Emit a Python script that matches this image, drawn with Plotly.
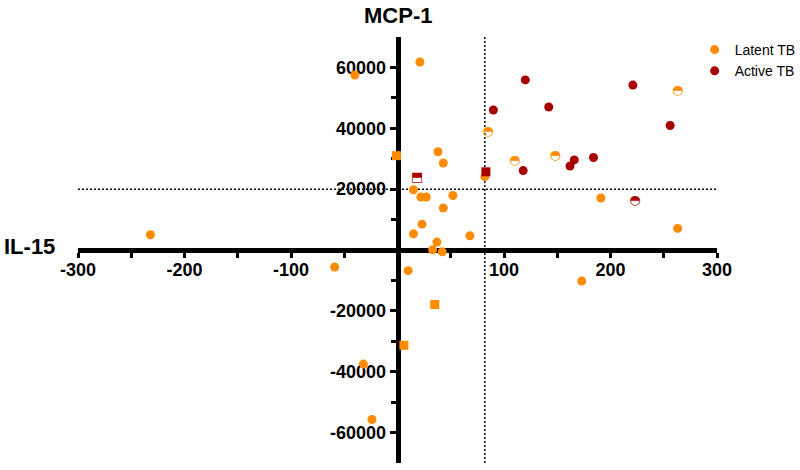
import plotly.graph_objects as go

# ---- data ----
latent_x = [-40, 21, -232, -59, 38, 43, 82, 15, 22, 27, 52, 43, 23, 15, 68, 37, 33, 42, 10, 191, 263, 173, -32, -24]
latent_y = [57500, 61800, 5000, -5600, 32300, 28600, 24100, 19800, 17400, 17400, 17900, 13800, 8500, 5300,
            4700, 2600, 100, -600, -6800, 17100, 7100, -10200, -37500, -55700]
latent_sq_x = [-1, 35, 6]
latent_sq_y = [31000, -17900, -31300]
latent_half_x = [85, 148, 263, 110]
latent_half_y = [38700, 30900, 52200, 29300]

active_x = [90, 120, 118, 142, 221, 256, 162, 166, 184]
active_y = [46000, 55900, 26100, 47000, 54200, 40900, 27600, 29600, 30400]
active_sq_x = [83]
active_sq_y = [25700]
active_half_x = [223]
active_half_y = [16200]
active_halfsq_x = [18.5]
active_halfsq_y = [23900]

cutoff_x = 82
cutoff_y = 20000

x_ticks = [-300, -200, -100, 100, 200, 300]
x_minor = [-250, -150, -50, 50, 150, 250]
y_ticks = [-60000, -40000, -20000, 20000, 40000, 60000]
y_minor = [-50000, -30000, -10000, 10000, 30000, 50000]
x_range = [-300, 300]
y_range = [-70000, 70000]

ORANGE = "#FF8C00"
DARKRED = "#A80000"

fig = go.Figure()

# reference (cut-off) lines
fig.add_trace(go.Scatter(x=x_range, y=[cutoff_y, cutoff_y], mode="lines",
                         line=dict(color="black", width=1.5, dash="2px,2px"),
                         showlegend=False, hoverinfo="skip"))
fig.add_trace(go.Scatter(x=[cutoff_x, cutoff_x], y=y_range, mode="lines",
                         line=dict(color="black", width=1.5, dash="2px,2px"),
                         showlegend=False, hoverinfo="skip"))

# Latent TB
fig.add_trace(go.Scatter(x=latent_x, y=latent_y, mode="markers", name="Latent TB",
                         marker=dict(symbol="circle", size=9, color=ORANGE)))
fig.add_trace(go.Scatter(x=latent_sq_x, y=latent_sq_y, mode="markers", showlegend=False,
                         marker=dict(symbol="square", size=9, color=ORANGE)))
fig.add_trace(go.Scatter(x=latent_half_x, y=latent_half_y, mode="text", text=["◓"] * len(latent_half_x),
                         textfont=dict(family="DejaVu Sans", size=13, color=ORANGE),
                         textposition="middle center", showlegend=False))

# Active TB
fig.add_trace(go.Scatter(x=active_x, y=active_y, mode="markers", name="Active TB",
                         marker=dict(symbol="circle", size=9, color=DARKRED)))
fig.add_trace(go.Scatter(x=active_sq_x, y=active_sq_y, mode="markers", showlegend=False,
                         marker=dict(symbol="square", size=9, color=DARKRED)))
fig.add_trace(go.Scatter(x=active_half_x, y=active_half_y, mode="text", text=["◓"] * len(active_half_x),
                         textfont=dict(family="DejaVu Sans", size=13, color=DARKRED),
                         textposition="middle center", showlegend=False))
fig.add_trace(go.Scatter(x=active_halfsq_x, y=active_halfsq_y, mode="text", text=["⬒"] * len(active_halfsq_x),
                         textfont=dict(family="DejaVu Sans", size=13, color=DARKRED),
                         textposition="middle center", showlegend=False))

tickfont = dict(family="Liberation Sans, Arial", size=18, color="black", weight="bold")

fig.update_layout(
    width=800, height=470,
    margin=dict(l=78, r=83, t=37, b=7, autoexpand=False),
    paper_bgcolor="white", plot_bgcolor="white",
    font=dict(family="Liberation Sans, Arial", color="black"),
    xaxis=dict(range=x_range, anchor="free", position=0.5, showgrid=False, zeroline=False,
               showline=True, linewidth=4.5, linecolor="black", layer="below traces",
               tickmode="array", tickvals=x_ticks, ticktext=[str(v) for v in x_ticks],
               ticks="outside", ticklen=5, tickwidth=3, tickcolor="black",
               tickfont=tickfont, ticklabelstandoff=-3,
               minor=dict(tickmode="array", tickvals=x_minor, ticks="outside", ticklen=5,
                          tickwidth=3, tickcolor="black", showgrid=False)),
    yaxis=dict(range=y_range, anchor="free", position=0.5, showgrid=False, zeroline=False,
               showline=True, linewidth=4.5, linecolor="black", layer="below traces",
               tickmode="array", tickvals=y_ticks, ticktext=[str(v) for v in y_ticks],
               ticks="outside", ticklen=6, tickwidth=3, tickcolor="black",
               tickfont=tickfont,
               minor=dict(tickmode="array", tickvals=y_minor, ticks="outside", ticklen=5,
                          tickwidth=3, tickcolor="black", showgrid=False)),
    legend=dict(x=0.965, y=1.007, xanchor="left", yanchor="top", bgcolor="rgba(0,0,0,0)",
                font=dict(family="Liberation Sans, Arial", size=14, color="black"),
                itemwidth=30, tracegroupgap=4),
    showlegend=True,
    annotations=[
        dict(text="<b>MCP-1</b>", x=0.5, y=1, xref="paper", yref="paper", xanchor="center",
             yanchor="middle", yshift=22, showarrow=False,
             font=dict(family="Liberation Sans, Arial", size=22, color="black")),
        dict(text="<b>IL-15</b>", x=0, y=0.5, xref="paper", yref="paper", xanchor="center",
             yanchor="middle", xshift=-48.5, yshift=4, showarrow=False,
             font=dict(family="Liberation Sans, Arial", size=22, color="black")),
    ],
)

fig.write_html("out.html", config={"displayModeBar": False},
               post_script="document.body.style.margin='0';document.body.style.overflow='hidden';")
